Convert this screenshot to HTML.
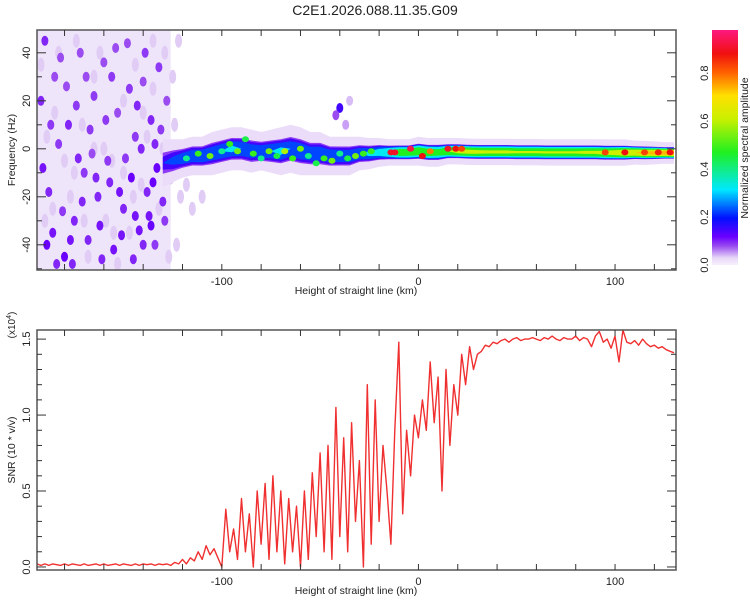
<!DOCTYPE html>
<html><head><meta charset="utf-8">
<style>
body{margin:0;background:#fff;}
svg{display:block;font-family:"Liberation Sans",sans-serif;}
</style></head>
<body>
<svg id="chart" width="750" height="600" viewBox="0 0 750 600">
<defs>
<linearGradient id="cmap" x1="0" y1="1" x2="0" y2="0">
<stop offset="0" stop-color="#f7f0fd"/>
<stop offset="0.03" stop-color="#e8d8f8"/>
<stop offset="0.08" stop-color="#9a4cf0"/>
<stop offset="0.12" stop-color="#6a00ff"/>
<stop offset="0.2" stop-color="#0010ff"/>
<stop offset="0.32" stop-color="#00e8ff"/>
<stop offset="0.48" stop-color="#20f020"/>
<stop offset="0.62" stop-color="#c8f000"/>
<stop offset="0.72" stop-color="#ffe000"/>
<stop offset="0.82" stop-color="#ff6000"/>
<stop offset="0.9" stop-color="#f01010"/>
<stop offset="1" stop-color="#ff1880"/>
</linearGradient>
<clipPath id="clipTop"><rect x="37" y="30" width="639" height="240"/></clipPath>
<clipPath id="clipBot"><rect x="37" y="330" width="639" height="240"/></clipPath>
</defs>
<text x="375" y="15" text-anchor="middle" font-size="14" fill="#222">C2E1.2026.088.11.35.G09</text>
<g id="topPlot"></g>
<g id="botPlot"></g>
<g id="cbar"></g>
</svg>
<script>
// ---- data ----
const xDomain = [-194, 131];
const fDomain = [-50.5, 49.5];
const snrDomain = [-0.02, 1.56];
const xTickLabels = [-100, 0, 100];
const fTickLabels = [-40, -20, 0, 20, 40];
const snrTickLabels = [0.0, 0.5, 1.0, 1.5];
const cbarTickLabels = [0.0, 0.2, 0.4, 0.6, 0.8];

const snrStart = -194, snrStep = 2;
const snrValues = [
0.02,0.01,0.02,0.01,0.02,0.015,0.01,0.02,0.01,0.02,0.015,0.01,0.02,0.01,0.015,0.02,0.01,0.02,0.01,0.015,0.02,0.01,0.02,0.015,0.01,0.02,0.01,0.02,0.015,0.02,0.01,0.02,0.015,0.02,0.01,
0.03,0.02,0.05,0.02,0.06,0.04,0.1,0.05,0.14,0.08,0.12,0.06,0.0,
0.38,0.1,0.25,0.05,0.45,0.1,0.35,0.0,0.5,0.15,0.55,0.05,0.6,0.1,0.5,0.02,0.45,0.1,0.4,0.0,
0.5,0.05,0.62,0.2,0.75,0.1,0.8,0.05,1.05,0.2,0.85,0.1,0.95,0.3,0.7,0.0,1.2,0.15,1.1,0.3,
0.8,0.5,0.15,0.9,1.48,0.35,0.9,0.6,1.0,0.85,
1.1,0.9,1.35,0.95,1.25,0.5,1.3,0.8,1.2,1.0,
1.4,1.2,1.45,1.3,1.4,1.42,1.46,1.45,1.48,1.47,
1.49,1.5,1.48,1.5,1.51,1.49,1.5,1.5,1.51,1.5,1.49,1.51,1.5,1.52,1.5,1.49,1.51,1.5,1.5,1.52,1.49,1.51,1.5,1.45,1.52,
1.55,1.48,1.5,1.44,1.52,1.35,1.56,1.48,1.47,1.49,1.46,1.5,1.47,1.45,1.46,1.44,1.45,1.43,1.42,1.41];

// spectral band: height (km), centre freq (Hz), outer half-width (Hz), peak amplitude
const bandX      = [-130,-125,-120,-115,-110,-105,-100,-95,-90,-85,-80,-75,-70,-65,-60,-55,-50,-45,-40,-35,-30,-25,-20,-15,-10,-5,0,5,10,15,20,25,30,35,40,45,50,55,60,65,70,75,80,85,90,95,100,105,110,115,120,125,130];
const bandCenter = [-6,-5,-4,-3,-3,-2,-1,0,0,-1,-1,-1,-1,0,-1,-2,-2,-3,-3,-3,-2,-2,-1.5,-1.5,-1.5,-1.5,-1,-1.5,-1.5,-1,-1,-1.2,-1.3,-1.3,-1.3,-1.3,-1.4,-1.4,-1.4,-1.5,-1.5,-1.5,-1.5,-1.5,-1.5,-1.6,-1.6,-1.6,-1.6,-1.7,-1.7,-1.7,-1.7];
const bandWidth  = [10,9,8,8,8,9,9,9,9,9,8,9,10,10,10,9,9,8,8,8,7,6.5,6,5.5,5.5,5.5,6,6,6,5.5,5.5,5.5,5.5,5.5,5.5,5.5,5.5,5.5,5.5,5.5,5.5,5.5,5.5,5.5,5.5,5.5,5.5,5.5,5,5,4.8,4.5,4.5];
const bandAmp    = [0.15,0.22,0.26,0.28,0.3,0.28,0.3,0.32,0.3,0.28,0.28,0.3,0.32,0.28,0.3,0.28,0.28,0.3,0.28,0.28,0.3,0.32,0.36,0.45,0.56,0.55,0.58,0.55,0.52,0.6,0.64,0.64,0.63,0.62,0.62,0.62,0.61,0.61,0.61,0.61,0.61,0.61,0.61,0.62,0.62,0.64,0.66,0.7,0.72,0.74,0.76,0.78,0.8];

// bright spots within the band: [height km, freq Hz, amplitude]
const bandSpots = [
[-118,-4,0.4],[-112,-2,0.5],[-106,-3,0.55],[-100,-1,0.4],[-96,2,0.5],[-92,-1,0.55],[-88,4,0.45],[-84,-2,0.5],[-80,-4,0.4],[-76,-1,0.55],
[-72,-3,0.45],[-68,-1,0.6],[-64,-4,0.5],[-60,0,0.55],[-56,-3,0.4],[-52,-6,0.45],[-48,-4,0.5],[-44,-5,0.55],[-40,-2,0.4],[-36,-4,0.45],
[-32,-3,0.55],[-28,-2,0.5],[-24,-1,0.5],[-14,-1.5,0.92],[-12,-1.5,0.92],[-4,0,0.95],[2,-3,0.9],[6,-1,0.8],[15,0,0.92],[19,0,0.9],[22,0,0.85],
[95,-1.5,0.85],[105,-1.5,0.9],[115,-1.5,0.85],[122,-1.5,0.88],[128,-1.5,0.9]];

// isolated spectral blobs in noise region: [height km, freq Hz, amplitude]
const noiseBlobs = [
[-190,45,0.1],[-185,30,0.08],[-180,-45,0.12],[-178,10,0.1],[-175,-30,0.1],[-172,40,0.08],[-170,-10,0.09],[-168,-38,0.1],[-165,22,0.09],[-163,-20,0.1],
[-160,36,0.08],[-158,-5,0.09],[-155,-42,0.11],[-153,15,0.08],[-150,-25,0.1],[-148,44,0.08],[-146,-12,0.12],[-144,5,0.09],[-142,-34,0.11],[-140,28,0.08],
[-138,-18,0.1],[-136,12,0.1],[-134,-40,0.09],[-132,34,0.09],[-130,-22,0.1],[-128,20,0.08],[-127,-8,0.11],[-188,-18,0.1],[-183,2,0.09],[-176,-48,0.1],
[-174,18,0.09],[-166,-2,0.08],[-161,-46,0.1],[-156,30,0.09],[-151,-36,0.11],[-145,-46,0.1],[-141,0,0.1],[-137,-28,0.11],[-133,-8,0.12],[-131,8,0.09],
[-186,-35,0.11],[-181,-26,0.09],[-179,26,0.08],[-171,-22,0.1],[-167,8,0.09],[-162,-32,0.11],[-157,-14,0.1],[-154,42,0.08],[-149,-4,0.09],[-143,18,0.1],
[-139,40,0.09],[-135,-14,0.12],[-129,-30,0.09],[-192,20,0.1],[-191,-8,0.11],[-189,-40,0.12],[-187,10,0.09],[-184,-48,0.1],[-182,38,0.08],[-177,-38,0.11],
[-173,-4,0.1],[-169,30,0.08],[-164,-12,0.1],[-159,12,0.09],[-152,-18,0.11],[-147,25,0.09],[-144,-28,0.11],[-140,-40,0.1],[-136,-32,0.12],[-134,2,0.1],
[-40,17,0.15],[-42,14,0.08],[-35,20,0.04],[-37,10,0.05]];
const noiseFaint = [
[-192,35],[-189,5],[-186,-25],[-183,40],[-180,-5],[-177,-20],[-174,45],[-171,10],[-168,-45],[-165,0],[-162,40],[-159,-30],[-156,-5],[-153,-48],[-150,20],[-147,-35],
[-144,35],[-141,-15],[-138,5],[-135,25],[-132,-25],[-129,40],[-126,-12],[-124,10],[-123,-40],[-125,30],[-121,-20],[-118,-15],[-115,-25],[-110,-20],[-190,-30],[-170,-30],
[-160,0],[-150,-10],[-140,15],[-130,0],[-185,15],[-175,-10],[-165,30],[-155,-35],[-145,-20],[-135,45],[-127,-45],[-122,45],[-128,-8]];

// ---- scales ----
const PT = {x0:37,x1:676,y0:30,y1:270};
const PB = {x0:37,x1:676,y0:330,y1:570};
const sx = (v,P)=>P.x0+(v-xDomain[0])/(xDomain[1]-xDomain[0])*(P.x1-P.x0);
const sf = v=>PT.y1-(v-fDomain[0])/(fDomain[1]-fDomain[0])*(PT.y1-PT.y0);
const ss = v=>PB.y1-(v-snrDomain[0])/(snrDomain[1]-snrDomain[0])*(PB.y1-PB.y0);
const NS="http://www.w3.org/2000/svg";
function mk(tag,attrs,parent){const e=document.createElementNS(NS,tag);for(const k in attrs)e.setAttribute(k,attrs[k]);parent.appendChild(e);return e;}
const cstops=[[0,[247,240,253]],[0.03,[232,216,248]],[0.08,[154,76,240]],[0.12,[106,0,255]],[0.2,[0,16,255]],[0.32,[0,232,255]],[0.48,[32,240,32]],[0.62,[200,240,0]],[0.72,[255,224,0]],[0.82,[255,96,0]],[0.9,[240,16,16]],[1,[255,24,128]]];
function cmap(v){v=Math.max(0,Math.min(1,v));for(let i=1;i<cstops.length;i++){if(v<=cstops[i][0]){const a=cstops[i-1],b=cstops[i],t=(v-a[0])/(b[0]-a[0]);return 'rgb('+a[1].map((c,j)=>Math.round(c+(b[1][j]-c)*t)).join(',')+')';}}return 'rgb(255,24,128)';}

// ---- top panel ----
const topPanel=document.getElementById('topPlot');
const tg=mk('g',{'clip-path':'url(#clipTop)'},topPanel);
const haze=mk('rect',{x:sx(xDomain[0],PT),y:PT.y0,width:sx(-126,PT)-sx(xDomain[0],PT),height:PT.y1-PT.y0,fill:'#efe5fa'},tg);


noiseFaint.forEach(b=>{
  const e=mk('ellipse',{cx:sx(b[0],PT),cy:sf(b[1]),rx:3.5,ry:7,fill:'#e0ccf5'},tg);
  
  
});
noiseBlobs.forEach(b=>{
  const e=mk('ellipse',{cx:sx(b[0],PT),cy:sf(b[1]),rx:3.5,ry:5,fill:cmap(b[2])},tg);
  
  
});
// band as nested level contours
const levels=[0.015,0.06,0.12,0.2,0.3,0.45,0.6,0.72];
levels.forEach(L=>{
  const up=[],dn=[];
  bandX.forEach((x,i)=>{
    const a=bandAmp[i];
    let h=0;
    if(a>L) h = L<0.02 ? bandWidth[i] : bandWidth[i]*0.55*Math.pow(1-L/a,0.45);
    up.push([sx(x,PT),sf(bandCenter[i]+h)]);
    dn.push([sx(x,PT),sf(bandCenter[i]-h)]);
  });
  const pts=up.concat(dn.reverse()).map(p=>p[0].toFixed(1)+','+p[1].toFixed(1)).join(' ');
  const e=mk('polygon',{points:pts,fill:cmap(L<0.02?0.025:L+0.03),'stroke-linejoin':'round'},tg);
  
  
});
bandSpots.forEach(s=>{
  const e=mk('ellipse',{cx:sx(s[0],PT),cy:sf(s[1]),rx:3.5,ry:3,fill:cmap(s[2])},tg);
  
  
});
function frame(P,g,name){const r=mk('rect',{x:P.x0,y:P.y0,width:P.x1-P.x0,height:P.y1-P.y0,fill:'none',stroke:'#555','stroke-width':1.5},g);}
frame(PT,topPanel,'spectrogram-frame');
function xticks(P,g){
  for(let v=-180;v<=120;v+=20){const X=sx(v,P);mk('line',{x1:X,x2:X,y1:P.y1,y2:P.y1-6,stroke:'#333'},g);mk('line',{x1:X,x2:X,y1:P.y0,y2:P.y0+6,stroke:'#333'},g);}
  xTickLabels.forEach(v=>{const t=mk('text',{x:sx(v,P),y:P.y1+15,'text-anchor':'middle','font-size':11,fill:'#222'},g);t.textContent=v;});
  const t=mk('text',{x:356,y:P.y1+24,'text-anchor':'middle','font-size':10.5,fill:'#222'},g);t.textContent='Height of straight line (km)';
  
}
xticks(PT,topPanel);
for(let v=-50;v<=40;v+=10){const Y=sf(v);const L=v%20===0?9:5;mk('line',{x1:PT.x0,x2:PT.x0+L,y1:Y,y2:Y,stroke:'#333'},topPanel);mk('line',{x1:PT.x1,x2:PT.x1-L,y1:Y,y2:Y,stroke:'#333'},topPanel);}
fTickLabels.forEach(v=>{const Y=sf(v);const t=mk('text',{x:30,y:Y,'text-anchor':'middle','font-size':11,fill:'#222',transform:'rotate(-90 30 '+Y+')'},topPanel);t.textContent=v;});
{const t=mk('text',{x:15,y:150,'text-anchor':'middle','font-size':10.5,fill:'#222',transform:'rotate(-90 15 150)'},topPanel);t.textContent='Frequency (Hz)';}

// ---- bottom panel ----
const botPanel=document.getElementById('botPlot');
const bg=mk('g',{'clip-path':'url(#clipBot)'},botPanel);
const pts=snrValues.map((v,i)=>sx(snrStart+i*snrStep,PB).toFixed(1)+','+ss(v).toFixed(1)).join(' ');
const snrLine=mk('polyline',{points:pts,fill:'none',stroke:'#f03030','stroke-width':1.4,'stroke-linejoin':'round'},bg);


frame(PB,botPanel,'snr-frame');
xticks(PB,botPanel);
for(let k=0;k<=15;k++){const v=k/10;const Y=ss(v);const L=k%5===0?9:5;mk('line',{x1:PB.x0,x2:PB.x0+L,y1:Y,y2:Y,stroke:'#333'},botPanel);mk('line',{x1:PB.x1,x2:PB.x1-L,y1:Y,y2:Y,stroke:'#333'},botPanel);}
snrTickLabels.forEach(v=>{const Y=ss(v);const t=mk('text',{x:30,y:Y,'text-anchor':'middle','font-size':11,fill:'#222',transform:'rotate(-90 30 '+Y+')'},botPanel);t.textContent=v.toFixed(1);});
{const t=mk('text',{x:15,y:450,'text-anchor':'middle','font-size':10.5,fill:'#222',transform:'rotate(-90 15 450)'},botPanel);t.textContent='SNR (10 * v/v)';}
{const t=mk('text',{x:15,y:325,'text-anchor':'middle','font-size':10,fill:'#222',transform:'rotate(-90 15 325)'},botPanel);
 t.appendChild(document.createTextNode('(x10'));
 const s1=mk('tspan',{dy:-4,'font-size':7},t);s1.textContent='4';
 const s2=mk('tspan',{dy:4},t);s2.textContent=')';
 }

// ---- colorbar ----
const cbPanel=document.getElementById('cbar');
const cbTop=30, cbBot=265, cbLo=0, cbHi=0.98;
const cy=v=>cbBot-(v-cbLo)/(cbHi-cbLo)*(cbBot-cbTop);
mk('rect',{x:712,y:cbTop,width:26,height:cbBot-cbTop,fill:'url(#cmap)'},cbPanel);
cbarTickLabels.forEach(v=>{const Y=cy(v);const t=mk('text',{x:708,y:Y,'text-anchor':'middle','font-size':11,fill:'#222',transform:'rotate(-90 708 '+Y+')'},cbPanel);t.textContent=v.toFixed(1);});
{const t=mk('text',{x:748,y:148,'text-anchor':'middle','font-size':10.5,fill:'#222',transform:'rotate(-90 748 148)'},cbPanel);t.textContent='Normalized spectral amplitude';}
</script>
</body></html>
